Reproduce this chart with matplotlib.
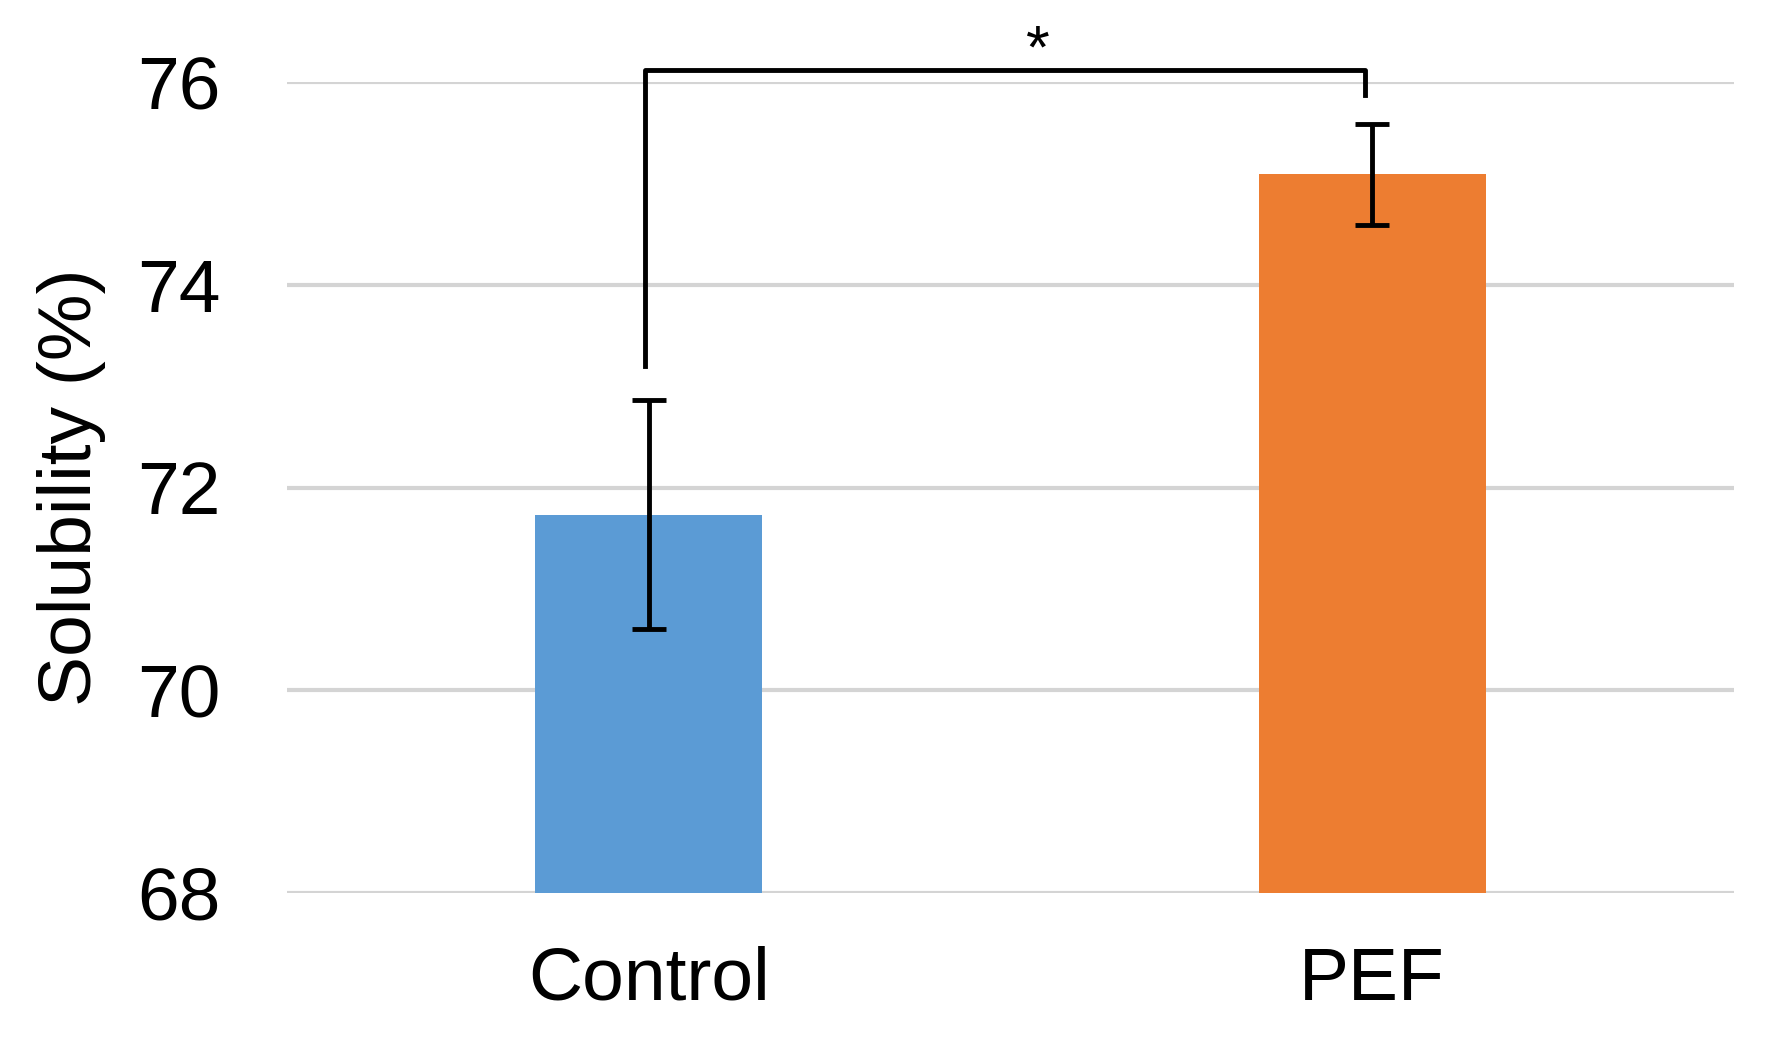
import matplotlib.pyplot as plt

# values
groups = ['Control', 'PEF']
solubility = [71.73, 75.09]
errors = [1.13, 0.50]
bar_colors = ['#5B9BD5', '#ED7D31']
yticks = [68, 70, 72, 74, 76]

# significance bracket: (start level, top level, end level)
bracket = [73.2, 76.12, 75.87]
star_level = 76.3

plt.rcParams['font.family'] = ['Liberation Sans', 'DejaVu Sans']

fig = plt.figure(figsize=(17.66, 10.4), dpi=100)
ax = fig.add_axes([287 / 1766, 1 - 893 / 1040, (1734 - 287) / 1766, (893 - 82) / 1040])

x = list(range(len(groups)))
ax.bar(x, [v - yticks[0] for v in solubility], bottom=yticks[0], width=0.314,
       color=bar_colors, zorder=2)
ax.errorbar(x, solubility, yerr=errors, fmt='none', ecolor='black',
            elinewidth=3.5, capsize=12, capthick=3.5, zorder=3)

ax.set_xlim(-0.5, 1.5)
ax.set_ylim(yticks[0], yticks[-1])
ax.set_yticks(yticks)
ax.set_xticks(x)
ax.set_xticklabels(groups)
ax.tick_params(axis='both', length=0, labelsize=54)
ax.tick_params(axis='y', pad=48)
ax.tick_params(axis='x', pad=38)
ax.grid(axis='y', color='#d4d4d4', linewidth=3, zorder=0)
ax.set_axisbelow(True)
for s in ax.spines.values():
    s.set_visible(False)

ax.set_ylabel('Solubility (%)', fontsize=54)
ax.yaxis.set_label_coords(-0.125, 0.5)

# bracket
ax.plot([x[0] - 0.005, x[0] - 0.005, x[1] - 0.01, x[1] - 0.01],
        [bracket[0], bracket[1], bracket[1], bracket[2]],
        color='black', linewidth=3.5, solid_joinstyle='round', clip_on=False, zorder=4)
ax.text(0.538, star_level, '*', fontsize=44,
        ha='center', va='center', clip_on=False)

fig.savefig('out.png', dpi=100)
